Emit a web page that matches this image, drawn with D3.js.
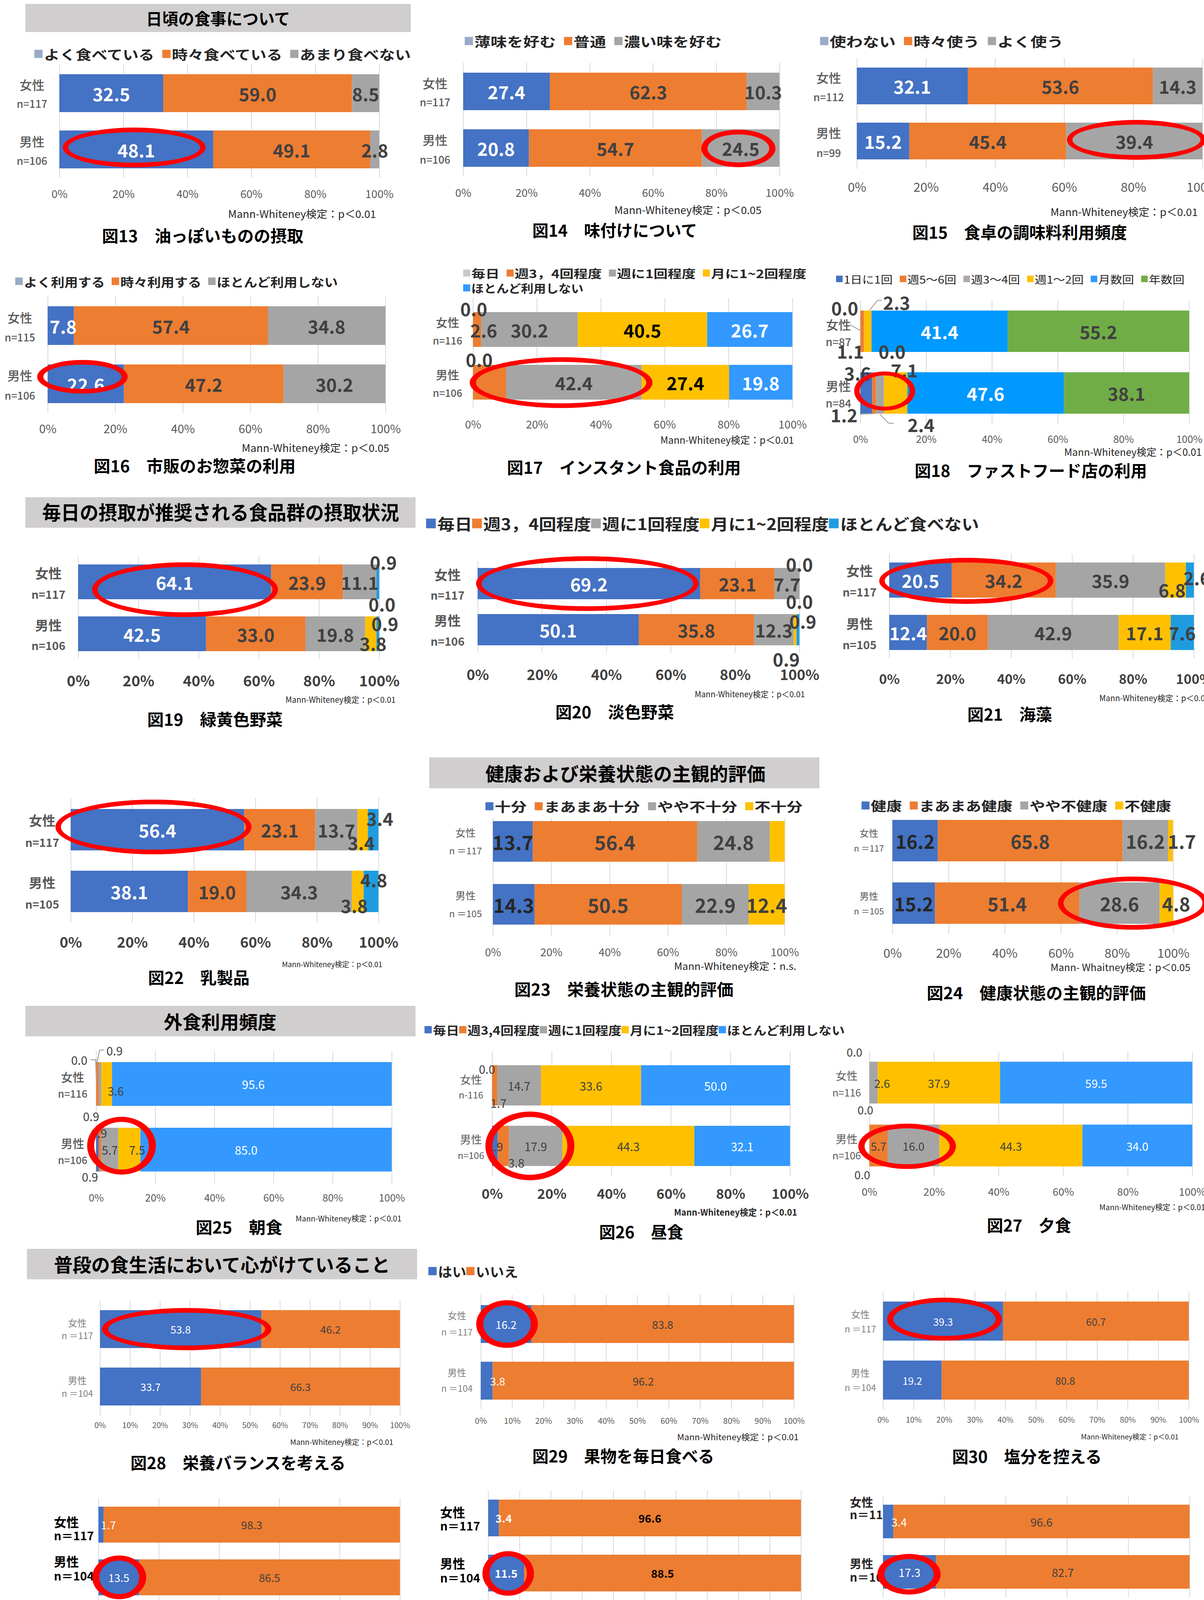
<!DOCTYPE html>
<html>
<head>
<meta charset="utf-8">
<script src="https://cdn.jsdelivr.net/npm/d3@7"></script>
<style>
  body { margin: 0; background: #fff; }
  svg { display: block; }
  text { font-family: "Noto Sans CJK JP", "Noto Sans", sans-serif; }
</style>
</head>
<body>
<svg id="chart" width="3083" height="4270"></svg>
<script>
// ---- data ----
const rows = ['女性', '男性'];
const pct20 = [0, 20, 40, 60, 80, 100];
const pct10 = [0, 10, 20, 30, 40, 50, 60, 70, 80, 90, 100];

const fig13Series = ['よく食べている', '時々食べている', 'あまり食べない'];
const fig13Women = [32.5, 59.0, 8.5];
const fig13Men = [48.1, 49.1, 2.8];
const fig13N = ['n=117', 'n=106'];

const fig14Series = ['薄味を好む', '普通', '濃い味を好む'];
const fig14Women = [27.4, 62.3, 10.3];
const fig14Men = [20.8, 54.7, 24.5];
const fig14N = ['n=117', 'n=106'];

const fig15Series = ['使わない', '時々使う', 'よく使う'];
const fig15Women = [32.1, 53.6, 14.3];
const fig15Men = [15.2, 45.4, 39.4];
const fig15N = ['n=112', 'n=99'];

const fig16Series = ['よく利用する', '時々利用する', 'ほとんど利用しない'];
const fig16Women = [7.8, 57.4, 34.8];
const fig16Men = [22.6, 47.2, 30.2];
const fig16N = ['n=115', 'n=106'];

const fig17Series = ['毎日', '週3，4回程度', '週に1回程度', '月に1~2回程度', 'ほとんど利用しない'];
const fig17Women = [0.0, 2.6, 30.2, 40.5, 26.7];
const fig17Men = [0.0, 10.4, 42.4, 27.4, 19.8];
const fig17N = ['n=116', 'n=106'];

const fig18Series = ['1日に1回', '週5～6回', '週3～4回', '週1～2回', '月数回', '年数回'];
const fig18Women = [0.0, 1.1, 0.0, 2.3, 41.4, 55.2];
const fig18Men = [3.6, 1.2, 2.4, 7.1, 47.6, 38.1];
const fig18N = ['n=87', 'n=84'];

const vegSeries = ['毎日', '週3，4回程度', '週に1回程度', '月に1~2回程度', 'ほとんど食べない'];
const fig19Women = [64.1, 23.9, 11.1, 0.0, 0.9];
const fig19Men = [42.5, 33.0, 19.8, 3.8, 0.9];
const fig19N = ['n=117', 'n=106'];
const fig20Women = [69.2, 23.1, 7.7, 0.0, 0.0];
const fig20Men = [50.1, 35.8, 12.3, 0.9, 0.9];
const fig20N = ['n=117', 'n=106'];
const fig21Women = [20.5, 34.2, 35.9, 6.8, 2.6];
const fig21Men = [12.4, 20.0, 42.9, 17.1, 7.6];
const fig21N = ['n=117', 'n=105'];
const fig22Women = [56.4, 23.1, 13.7, 3.4, 3.4];
const fig22Men = [38.1, 19.0, 34.3, 3.8, 4.8];
const fig22N = ['n=117', 'n=105'];

const fig23Series = ['十分', 'まあまあ十分', 'やや不十分', '不十分'];
const fig23Women = [13.7, 56.4, 24.8, 5.1];
const fig23Men = [14.3, 50.5, 22.9, 12.4];
const fig23N = ['n ＝117', 'n ＝105'];

const fig24Series = ['健康', 'まあまあ健康', 'やや不健康', '不健康'];
const fig24Women = [16.2, 65.8, 16.2, 1.7];
const fig24Men = [15.2, 51.4, 28.6, 4.8];
const fig24N = ['n ＝117', 'n ＝105'];

const eatOutSeries = ['毎日', '週3,4回程度', '週に1回程度', '月に1~2回程度', 'ほとんど利用しない'];
const fig25Women = [0.0, 0.9, 0.9, 3.6, 95.6];
const fig25Men = [0.9, 0.9, 5.7, 7.5, 85.0];
const fig25N = ['n=116', 'n=106'];
const fig26Women = [0.0, 1.7, 14.7, 33.6, 50.0];
const fig26Men = [1.9, 3.8, 17.9, 44.3, 32.1];
const fig26N = ['n-116', 'n=106'];
const fig27Women = [0.0, 0.0, 2.6, 37.9, 59.5];
const fig27Men = [0.0, 5.7, 16.0, 44.3, 34.0];
const fig27N = ['n=116', 'n=106'];

const yesNoSeries = ['はい', 'いいえ'];
const fig28Women = [53.8, 46.2];
const fig28Men = [33.7, 66.3];
const fig29Women = [16.2, 83.8];
const fig29Men = [3.8, 96.2];
const fig30Women = [39.3, 60.7];
const fig30Men = [19.2, 80.8];
const fig31Women = [1.7, 98.3];
const fig31Men = [13.5, 86.5];
const fig32Women = [3.4, 96.6];
const fig32Men = [11.5, 88.5];
const fig33Women = [3.4, 96.6];
const fig33Men = [17.3, 82.7];
const habitN = ['n ＝117', 'n ＝104'];
const habitN2 = ['n＝117', 'n＝104'];

// ---- styles ----
const blue = '#4472C4', orange = '#ED7D31', gray = '#A5A5A5', yellow = '#FFC000',
  sky = '#3399FF', cyan = '#1F9CE0', green = '#70AD47', azure = '#0099FF',
  paleBlue = '#9AAAC8', paleGray = '#C9C9C9', dark = '#404040', white = '#FFFFFF';

const fmt = d3.format('.1f');
const svg = d3.select('#chart');
svg.append('rect').attr('width', 3083).attr('height', 4270).attr('fill', '#fff');

function fitText(g, str, o) {
  return g.append('text').text(str)
    .attr('x', o.anchor === 'start' ? o.x0 : (o.x0 + o.x1) / 2)
    .attr('y', o.cy)
    .attr('text-anchor', o.anchor || 'middle')
    .attr('dominant-baseline', 'central')
    .attr('font-size', o.size)
    .attr('font-weight', o.weight || 400)
    .attr('fill', o.color || dark)
    .attr('textLength', o.x1 - o.x0)
    .attr('lengthAdjust', 'spacingAndGlyphs');
}

function drawLegend(g, L) {
  const [x0, x1, cy] = L.box;
  const s = L.size, sw = s * 0.62, pad = s * 0.1, gap = s * (L.gap === undefined ? 0.5 : L.gap);
  const items = L.series.map((name, i) => {
    const t = g.append('text').text(name)
      .attr('y', cy).attr('dominant-baseline', 'central')
      .attr('font-size', s).attr('font-weight', L.bold ? 700 : 400)
      .attr('fill', L.color || '#262626');
    return { t, w: t.node().getComputedTextLength(), c: L.colors[i] };
  });
  const fixed = items.length * (sw + pad);
  const k = (x1 - x0 - fixed) / (d3.sum(items, d => d.w) + gap * (items.length - 1));
  let cx = x0;
  items.forEach(d => {
    g.append('rect').attr('x', cx).attr('y', cy - sw / 2).attr('width', sw).attr('height', sw).attr('fill', d.c);
    cx += sw + pad;
    d.t.attr('x', cx).attr('textLength', d.w * k).attr('lengthAdjust', 'spacingAndGlyphs');
    cx += d.w * k + gap * k;
  });
}

function drawPanel(p) {
  const g = svg.append('g');
  const x = d3.scaleLinear().domain([0, 100]).range(p.x).clamp(true);
  const [top, bottom, bh] = p.bars;
  const gap = (bottom - top) - 2 * bh;
  const y = d3.scaleBand().domain(rows).range([top, bottom])
    .paddingInner(gap / (bh + gap)).paddingOuter(0);

  // gridlines
  g.append('g').attr('transform', `translate(0,${p.grid[0]})`)
    .call(d3.axisBottom(x).tickValues(p.ticks).tickSize(p.grid[1] - p.grid[0]).tickFormat(''))
    .call(a => {
      a.select('.domain').remove();
      a.selectAll('line').attr('stroke', '#D9D9D9').attr('stroke-width', 2);
    });

  // tick labels
  g.append('g').attr('transform', `translate(0,${p.tickY})`)
    .call(d3.axisBottom(x).tickValues(p.ticks).tickSize(0).tickPadding(0).tickFormat(d => d + '%'))
    .call(a => {
      a.select('.domain').remove();
      a.selectAll('text').attr('dy', '0.35em').attr('font-size', p.tickSize)
        .attr('font-weight', p.tickBold ? 700 : 400)
        .attr('fill', p.tickBold ? dark : '#595959');
    });

  // row labels
  const R = p.rowLab;
  [rows[0], p.n[0], rows[1], p.n[1]].forEach((s, i) => {
    g.append('text').text(s)
      .attr('x', R.x).attr('y', R.ys[i])
      .attr('text-anchor', R.anchor || 'middle').attr('dominant-baseline', 'central')
      .attr('font-size', i % 2 ? R.nSize : R.size)
      .attr('font-weight', R.weight || 400)
      .attr('fill', R.color || '#595959');
  });

  const series = [p.women, p.men];

  // bars (axis ends at 100%, anything beyond is clipped like the source chart)
  series.forEach((vals, r) => {
    const ends = d3.cumsum(vals);
    g.append('g').selectAll('rect').data(vals).join('rect')
      .attr('x', (d, i) => x(ends[i] - d))
      .attr('y', y(rows[r]))
      .attr('width', (d, i) => x(ends[i]) - x(ends[i] - d))
      .attr('height', y.bandwidth())
      .attr('fill', (d, i) => p.colors[i]);
  });

  // value labels
  series.forEach((vals, r) => {
    const ends = d3.cumsum(vals);
    const cy = y(rows[r]) + y.bandwidth() / 2;
    vals.forEach((v, i) => {
      const o = (p.over || {})[`${r}-${i}`] || {};
      if (o.hide) return;
      const mx = x(ends[i] - v / 2);
      if (o.line) {
        g.append('polyline')
          .attr('points', o.line.map(q => [mx + q[0], cy + q[1]].join(',')).join(' '))
          .attr('fill', 'none').attr('stroke', '#A6A6A6').attr('stroke-width', 2.5);
      }
      g.append('text').text(fmt(v))
        .attr('x', mx + (o.dx || 0)).attr('y', cy + (o.dy || 0))
        .attr('text-anchor', 'middle').attr('dominant-baseline', 'central')
        .attr('font-size', p.labelSize)
        .attr('font-weight', p.labelBold ? 700 : 400)
        .attr('fill', p.labelColors[i]);
    });
  });

  // legend
  (p.legend || []).forEach(L => drawLegend(g, L));

  // note and title
  const nb = p.noteBox;
  fitText(g, p.note, { x0: nb[0], x1: nb[1], cy: nb[2], size: p.noteSize, weight: p.noteBold ? 700 : 400, color: '#262626', anchor: p.noteAnchor });
  const tb = p.titleBox;
  fitText(g, p.title, { x0: tb[0], x1: tb[1], cy: tb[2], size: 42, weight: 700, color: '#000' });

  // red ring annotation
  if (p.ring) {
    const e = p.ring;
    const cx = x(e.at), cy = y(rows[e.row]) + y.bandwidth() / 2 + (e.dy || 0);
    const tx = e.tx || 14, ty = e.ty || 12;
    const ell = (rx, ry) => `M${cx - rx},${cy}a${rx},${ry} 0 1,0 ${2 * rx},0a${rx},${ry} 0 1,0 ${-2 * rx},0Z`;
    g.append('path').attr('d', ell(e.rx, e.ry) + ell(e.rx - tx, e.ry - ty))
      .attr('fill', '#FF0000').attr('fill-rule', 'evenodd');
  }
}

const c3 = [blue, orange, gray];
const lc3 = [white, dark, dark];
const sw3 = [paleBlue, orange, gray];
const cVeg = [blue, orange, gray, yellow, cyan];
const lcVeg = [white, dark, dark, dark, dark];
const c4 = [blue, orange, gray, yellow];
const lc4 = ['#262626', dark, dark, dark];
const cEat = [blue, orange, gray, yellow, sky];
const lcEat = [dark, dark, dark, dark, white];
const c2 = [blue, orange];
const lc2 = [white, dark];
const mw01 = 'Mann-Whiteney検定：p＜0.01';
const mw05 = 'Mann-Whiteney検定：p＜0.05';

const panels = [
  { title: '図13　油っぽいものの摂取', titleBox: [261, 777, 601], note: mw01, noteBox: [584, 963, 546], noteSize: 27,
    women: fig13Women, men: fig13Men, n: fig13N, colors: c3, labelColors: lc3, labelSize: 46, labelBold: true,
    x: [152, 971], bars: [190, 431, 97], grid: [165, 455], ticks: pct20, tickY: 497, tickSize: 28,
    rowLab: { x: 82, ys: [216, 264, 361, 410], size: 32, nSize: 27, weight: 500 },
    legend: [{ series: fig13Series, colors: sw3, box: [88, 1052, 138], size: 34, bold: true }],
    ring: { at: 23.4, row: 1, dy: -5, rx: 183, ry: 51 } },
  { title: '図14　味付けについて', titleBox: [1363, 1785, 587], note: mw05, noteBox: [1573, 1950, 536], noteSize: 27,
    women: fig14Women, men: fig14Men, n: fig14N, colors: c3, labelColors: lc3, labelSize: 46, labelBold: true,
    x: [1186, 1996], bars: [186, 427, 96], grid: [161, 451], ticks: pct20, tickY: 494, tickSize: 28,
    rowLab: { x: 1114, ys: [212, 260, 357, 407], size: 32, nSize: 27, weight: 500 },
    legend: [{ series: fig14Series, colors: sw3, box: [1190, 1848, 105], size: 34, bold: true }],
    ring: { at: 87.0, row: 1, dy: 1, rx: 95, ry: 48, tx: 16 } },
  { title: '図15　食卓の調味料利用頻度', titleBox: [2336, 2886, 592], note: mw01, noteBox: [2690, 3067, 541], noteSize: 27,
    women: fig15Women, men: fig15Men, n: fig15N, colors: c3, labelColors: lc3, labelSize: 46, labelBold: true,
    x: [2194, 3079], bars: [173, 408, 94], grid: [149, 432], ticks: pct20, tickY: 480, tickSize: 32,
    rowLab: { x: 2122, ys: [198, 247, 339, 390], size: 32, nSize: 27, weight: 500 },
    legend: [{ series: fig15Series, colors: sw3, box: [2100, 2723, 105], size: 34, bold: true }],
    ring: { at: 80.9, row: 1, dy: -3, rx: 178, ry: 51 } },
  { title: '図16　市販のお惣菜の利用', titleBox: [240, 757, 1190], note: mw05, noteBox: [619, 997, 1145], noteSize: 27,
    women: fig16Women, men: fig16Men, n: fig16N, colors: c3, labelColors: lc3, labelSize: 46, labelBold: true,
    x: [122, 987], bars: [784, 1032, 99], grid: [759, 1057], ticks: pct20, tickY: 1098, tickSize: 30,
    rowLab: { x: 51, ys: [812, 862, 960, 1011], size: 32, nSize: 27, weight: 500 },
    legend: [{ series: fig16Series, colors: sw3, box: [39, 865, 720], size: 31, bold: true }],
    over: { '0-0': { dx: 6 } },
    ring: { at: 10.3, row: 1, dy: -18, rx: 116, ry: 43, tx: 16 } },
  { title: '図17　インスタント食品の利用', titleBox: [1298, 1897, 1194], note: mw01, noteBox: [1691, 2033, 1125], noteSize: 25,
    women: fig17Women, men: fig17Men, n: fig17N, colors: [blue, orange, gray, yellow, sky],
    labelColors: [dark, dark, dark, '#000', white], labelSize: 46, labelBold: true,
    x: [1211, 2029], bars: [799, 1023, 89], grid: [763, 1045], ticks: pct20, tickY: 1087, tickSize: 28,
    rowLab: { x: 1146, ys: [824, 870, 958, 1004], size: 30, nSize: 26, weight: 500 },
    legend: [
      { series: fig17Series.slice(0, 4), colors: [paleGray, orange, gray, yellow], box: [1186, 2065, 699], size: 29, bold: true },
      { series: fig17Series.slice(4), colors: [sky], box: [1186, 1494, 737], size: 29, bold: true }],
    over: { '0-0': { dx: 2, dy: -55 }, '0-1': { dx: 17 }, '1-0': { dx: 16, dy: -60 }, '1-1': { hide: true } },
    ring: { at: 27.6, row: 1, dy: 1, rx: 234, ry: 65, tx: 16 } },
  { title: '図18　ファストフード店の利用', titleBox: [2342, 2937, 1202], note: mw01, noteBox: [2725, 3077, 1155], noteSize: 26,
    women: fig18Women, men: fig18Men, n: fig18N, colors: [blue, orange, gray, yellow, azure, green],
    labelColors: [dark, dark, dark, dark, white, dark], labelSize: 46, labelBold: true,
    x: [2203, 3045], bars: [795, 1059, 106], grid: [769, 1085], ticks: pct20, tickY: 1125, tickSize: 26,
    rowLab: { x: 2147, ys: [830, 874, 987, 1031], size: 32, nSize: 28, weight: 500 },
    legend: [{ series: fig18Series, colors: [blue, orange, '#AEAAAA', yellow, sky, green], box: [2141, 3033, 714], size: 27, bold: false, gap: 0.6 }],
    over: {
      '0-0': { dx: -40, dy: -61, line: [[-27, -17], [2, -1]] },
      '0-1': { dx: -30, dy: 50 },
      '0-2': { dx: 72, dy: 50 },
      '0-3': { dx: 74, dy: -75, line: [[36, -79], [25, -79], [5, -54]] },
      '1-0': { dx: -22, dy: -52 },
      '1-1': { dx: -77, dy: 55, line: [[-37, 54], [-1, 53]] },
      '1-2': { dx: 105, dy: 80, line: [[0, 55], [21, 77], [35, 78]] },
      '1-3': { dx: 22, dy: -60 } },
    ring: { at: 7.4, row: 1, dy: -5, rx: 78, ry: 50, tx: 14, ty: 10 } },
  { title: '図19　緑黄色野菜', titleBox: [377, 724, 1839], note: mw01, noteBox: [731, 1013, 1790], noteSize: 21,
    women: fig19Women, men: fig19Men, n: fig19N, colors: cVeg, labelColors: lcVeg, labelSize: 46, labelBold: true,
    x: [200, 971], bars: [1445, 1667, 89], grid: [1424, 1687], ticks: pct20, tickY: 1744, tickSize: 38, tickBold: true,
    rowLab: { x: 124, ys: [1466, 1520, 1599, 1651], size: 34, nSize: 29, weight: 700 },
    over: { '0-3': { dx: 14, dy: 55 }, '0-4': { dx: 14, dy: -52 }, '1-3': { dx: 6, dy: 23 }, '1-4': { dx: 18, dy: -28 } },
    ring: { at: 35.5, row: 0, dy: 20, rx: 238, ry: 70 } },
  { title: '図20　淡色野菜', titleBox: [1422, 1726, 1820], note: mw01, noteBox: [1779, 2061, 1776], noteSize: 21,
    women: fig20Women, men: fig20Men, n: fig20N, colors: cVeg, labelColors: lcVeg, labelSize: 46, labelBold: true,
    x: [1223, 2047], bars: [1454, 1652, 80], grid: [1436, 1671], ticks: pct20, tickY: 1728, tickSize: 37, tickBold: true,
    rowLab: { x: 1146, ys: [1470, 1522, 1587, 1640], size: 34, nSize: 29, weight: 700 },
    over: { '0-3': { dy: -51 }, '0-4': { dy: 44 }, '1-3': { dx: 20, dy: -23 }, '1-4': { dx: -30, dy: 74 } },
    ring: { at: 34.1, row: 0, dy: 0, rx: 285, ry: 70 } },
  { title: '図21　海藻', titleBox: [2477, 2694, 1826], note: mw01, noteBox: [2815, 3097, 1786], noteSize: 21, noteAnchor: 'start',
    women: fig21Women, men: fig21Men, n: fig21N, colors: cVeg, labelColors: lcVeg, labelSize: 46, labelBold: true,
    x: [2277, 3057], bars: [1440, 1664, 90], grid: [1418, 1685], ticks: pct20, tickY: 1739, tickSize: 34, tickBold: true,
    rowLab: { x: 2201, ys: [1460, 1514, 1595, 1649], size: 34, nSize: 29, weight: 700 },
    over: { '0-3': { dx: -9, dy: 24 }, '0-4': { dx: 18, dy: -7 } },
    ring: { at: 25.3, row: 0, dy: 2, rx: 223, ry: 59 } },
  { title: '図22　乳製品', titleBox: [379, 639, 2500], note: mw01, noteBox: [722, 979, 2467], noteSize: 19,
    women: fig22Women, men: fig22Men, n: fig22N, colors: cVeg, labelColors: lcVeg, labelSize: 46, labelBold: true,
    x: [181, 969], bars: [2071, 2335, 106], grid: [2043, 2362], ticks: pct20, tickY: 2413, tickSize: 37, tickBold: true,
    rowLab: { x: 108, ys: [2099, 2155, 2258, 2313], size: 34, nSize: 29, weight: 700 },
    over: { '0-3': { dx: -4, dy: 32 }, '0-4': { dx: 17, dy: -30 }, '1-3': { dx: -9, dy: 35 }, '1-4': { dx: 7, dy: -31 } },
    ring: { at: 26.9, row: 0, dy: -7, rx: 251, ry: 70 } },
  { title: '図23　栄養状態の主観的評価', titleBox: [1317, 1878, 2530], note: 'Mann-Whiteney検定：n.s.', noteBox: [1726, 2039, 2471], noteSize: 26,
    women: fig23Women, men: fig23Men, n: fig23N, colors: c4, labelColors: lc4, labelSize: 50, labelBold: true,
    x: [1262, 2009], bars: [2102, 2367, 104], grid: [2094, 2396], ticks: pct20, tickY: 2438, tickSize: 28,
    rowLab: { x: 1192, ys: [2130, 2176, 2291, 2337], size: 26, nSize: 24 },
    legend: [{ series: fig23Series, colors: c4, box: [1243, 2055, 2064], size: 33, bold: true }],
    over: { '0-3': { hide: true } } },
  { title: '図24　健康状態の主観的評価', titleBox: [2373, 2934, 2539], note: 'Mann- Whaitney検定：p＜0.05', noteBox: [2690, 3048, 2475], noteSize: 25,
    women: fig24Women, men: fig24Men, n: fig24N, colors: c4, labelColors: lc4, labelSize: 48, labelBold: true,
    x: [2285, 3004], bars: [2099, 2365, 106], grid: [2097, 2391], ticks: pct20, tickY: 2441, tickSize: 32,
    rowLab: { x: 2225, ys: [2131, 2170, 2292, 2331], size: 24, nSize: 22 },
    legend: [{ series: fig24Series, colors: c4, box: [2206, 2999, 2062], size: 33, bold: true }],
    over: { '0-3': { dx: 29 }, '1-3': { dx: 25 } },
    ring: { at: 85.7, row: 1, dy: 0, rx: 192, ry: 68 } },
  { title: '図25　朝食', titleBox: [501, 723, 3139], note: mw01, noteBox: [757, 1028, 3118], noteSize: 20,
    women: fig25Women, men: fig25Men, n: fig25N, colors: cEat, labelColors: lcEat, labelSize: 30,
    x: [246, 1003], bars: [2719, 2999, 112], grid: [2691, 3029], ticks: pct20, tickY: 3067, tickSize: 26,
    rowLab: { x: 186, ys: [2756, 2798, 2926, 2968], size: 30, nSize: 26, weight: 500 },
    over: {
      '0-0': { dx: -43, dy: -62, line: [[-14, -62], [-1, -62], [1, -1]] },
      '0-1': { dx: 44, dy: -86, line: [[17, -87], [6, -87], [-1, -56]] },
      '0-2': { dx: -23, dy: 82 },
      '0-3': { dx: 23, dy: 17 },
      '1-0': { dx: -19, dy: 69 },
      '1-1': { dx: -3, dy: -43 },
      '1-3': { dx: 20 },
      '1-4': { dx: -51 } },
    ring: { at: 8.6, row: 1, dy: -10, rx: 88, ry: 74, tx: 18, ty: 13 } },
  { title: '図26　昼食', titleBox: [1534, 1750, 3151], note: mw01, noteBox: [1726, 2041, 3102], noteSize: 23, noteBold: true,
    women: fig26Women, men: fig26Men, n: fig26N, colors: cEat, labelColors: lcEat, labelSize: 30,
    x: [1260, 2023], bars: [2727, 2985, 103], grid: [2691, 3011], ticks: pct20, tickY: 3057, tickSize: 35, tickBold: true,
    rowLab: { x: 1206, ys: [2763, 2801, 2916, 2956], size: 28, nSize: 24 },
    over: { '0-0': { dx: -13, dy: -43 }, '0-1': { dx: 10, dy: 44 }, '1-1': { dx: 33, dy: 42 } },
    ring: { at: 12.7, row: 1, dy: 0, rx: 114, ry: 88, tx: 18, ty: 14 } },
  { title: '図27　夕食', titleBox: [2527, 2743, 3134], note: mw01, noteBox: [2815, 3086, 3089], noteSize: 20, noteAnchor: 'start',
    women: fig27Women, men: fig27Men, n: fig27N, colors: cEat, labelColors: lcEat, labelSize: 29,
    x: [2226, 3053], bars: [2718, 2986, 107], grid: [2692, 3011], ticks: pct20, tickY: 3052, tickSize: 27,
    rowLab: { x: 2168, ys: [2753, 2795, 2915, 2956], size: 28, nSize: 26 },
    over: { '0-0': { dx: -38, dy: -80 }, '0-1': { dx: -10, dy: 68 }, '0-2': { dx: 22 }, '1-0': { dx: -18, dy: 73 } },
    ring: { at: 11.7, row: 1, dy: 2, rx: 125, ry: 58, tx: 16 } },
  { title: '図28　栄養バランスを考える', titleBox: [334, 885, 3742], note: mw01, noteBox: [743, 1007, 3690], noteSize: 19,
    women: fig28Women, men: fig28Men, n: habitN, colors: c2, labelColors: lc2, labelSize: 27,
    x: [256, 1024], bars: [3354, 3598, 97], grid: [3329, 3624], ticks: pct10, tickY: 3649, tickSize: 20,
    rowLab: { x: 198, ys: [3385, 3418, 3532, 3566], size: 24, nSize: 23, color: '#7F7F7F' },
    ring: { at: 28.9, row: 0, dy: 0, rx: 217, ry: 54, tx: 16 } },
  { title: '図29　果物を毎日食べる', titleBox: [1363, 1829, 3725], note: mw01, noteBox: [1734, 2045, 3677], noteSize: 22,
    women: fig29Women, men: fig29Men, n: habitN, colors: c2, labelColors: lc2, labelSize: 28,
    x: [1231, 2033], bars: [3341, 3583, 97], grid: [3315, 3607], ticks: pct10, tickY: 3638, tickSize: 21,
    rowLab: { x: 1170, ys: [3366, 3409, 3512, 3553], size: 24, nSize: 23, color: '#7F7F7F' },
    over: { '1-0': { dx: 28 } },
    ring: { at: 8.4, row: 0, dy: 0, rx: 79, ry: 61, tx: 18, ty: 13 } },
  { title: '図30　塩分を控える', titleBox: [2438, 2821, 3726], note: mw01, noteBox: [2768, 3018, 3677], noteSize: 18,
    women: fig30Women, men: fig30Men, n: habitN, colors: c2, labelColors: lc2, labelSize: 26,
    x: [2261, 3044], bars: [3332, 3583, 100], grid: [3306, 3608], ticks: pct10, tickY: 3635, tickSize: 20,
    rowLab: { x: 2203, ys: [3363, 3401, 3513, 3551], size: 24, nSize: 23, color: '#7F7F7F' },
    ring: { at: 20.1, row: 0, dy: -5, rx: 147, ry: 55, tx: 16 } },
  { title: '図31　タバコを控える', titleBox: [354, 783, 4219], note: mw01, noteBox: [615, 1028, 4167], noteSize: 30,
    women: fig31Women, men: fig31Men, n: habitN2, colors: c2, labelColors: lc2, labelSize: 28,
    x: [252, 1024], bars: [3857, 4084, 92], grid: [3835, 4107], ticks: pct20, tickY: 4135, tickSize: 21,
    rowLab: { x: 138, anchor: 'start', ys: [3895, 3930, 3996, 4033], size: 32, nSize: 30, color: '#000', weight: 700 },
    over: { '0-0': { dx: 19 } },
    ring: { at: 6.9, row: 1, dy: 0, rx: 69, ry: 56, tx: 18, ty: 13 } },
  { title: '図32　飲酒を控える', titleBox: [1449, 1829, 4221], note: mw05, noteBox: [1711, 2011, 4174], noteSize: 22,
    women: fig32Women, men: fig32Men, n: habitN2, colors: c2, labelColors: [white, '#000'], labelSize: 28, labelBold: true,
    x: [1250, 2051], bars: [3839, 4074, 94], grid: [3816, 4097], ticks: pct10, tickY: 4125, tickSize: 20,
    rowLab: { x: 1127, anchor: 'start', ys: [3870, 3905, 4001, 4038], size: 32, nSize: 30, color: '#000', weight: 700 },
    over: { '0-0': { dx: 26 } },
    ring: { at: 6.4, row: 1, dy: 1, rx: 66, ry: 57, tx: 18, ty: 13 } },
  { title: '図33　ジョギングをする', titleBox: [2389, 2857, 4214], note: mw01, noteBox: [2704, 3018, 4168], noteSize: 23,
    women: fig33Women, men: fig33Men, n: habitN2, colors: c2, labelColors: lc2, labelSize: 29,
    x: [2261, 3046], bars: [3852, 4067, 86], grid: [3831, 4089], ticks: pct20, tickY: 4119, tickSize: 22,
    rowLab: { x: 2176, anchor: 'start', ys: [3844, 3876, 4001, 4036], size: 30, nSize: 30, color: '#262626', weight: 700 },
    over: { '0-0': { dx: 28 } },
    ring: { at: 8.5, row: 1, dy: 6, rx: 81, ry: 52, tx: 18, ty: 13 } }
];

// section headers
const headers = [
  { text: '日頃の食事について', box: [65, 10, 987, 72], tx: [374, 743], cy: 45, size: 42 },
  { text: '毎日の摂取が推奨される食品群の摂取状況', box: [65, 1273, 999, 78], tx: [108, 1022], cy: 1309, size: 50 },
  { text: '健康および栄養状態の主観的評価', box: [1099, 1939, 999, 79], tx: [1243, 1960], cy: 1978, size: 48 },
  { text: '外食利用頻度', box: [65, 2575, 999, 78], tx: [419, 708], cy: 2613, size: 47 },
  { text: '普段の食生活において心がけていること', box: [69, 3197, 999, 78], tx: [138, 999], cy: 3235, size: 48 }
];
const hg = svg.append('g');
headers.forEach(h => {
  hg.append('rect').attr('x', h.box[0]).attr('y', h.box[1]).attr('width', h.box[2]).attr('height', h.box[3]).attr('fill', '#D0CECE');
  fitText(hg, h.text, { x0: h.tx[0], x1: h.tx[1], cy: h.cy, size: h.size, weight: 700, color: '#000' });
});

// legends shared by a whole row
const sharedLegends = [
  { series: vegSeries, colors: cVeg, box: [1091, 2507, 1340], size: 40, bold: true, gap: 0 },
  { series: eatOutSeries, colors: cEat, box: [1087, 2163, 2636], size: 30, bold: true, gap: 0 },
  { series: yesNoSeries, colors: c2, box: [1097, 1327, 3254], size: 34, bold: true, gap: 0 }
];
const lg = svg.append('g');
sharedLegends.forEach(L => drawLegend(lg, L));

panels.forEach(drawPanel);
</script>
</body>
</html>
